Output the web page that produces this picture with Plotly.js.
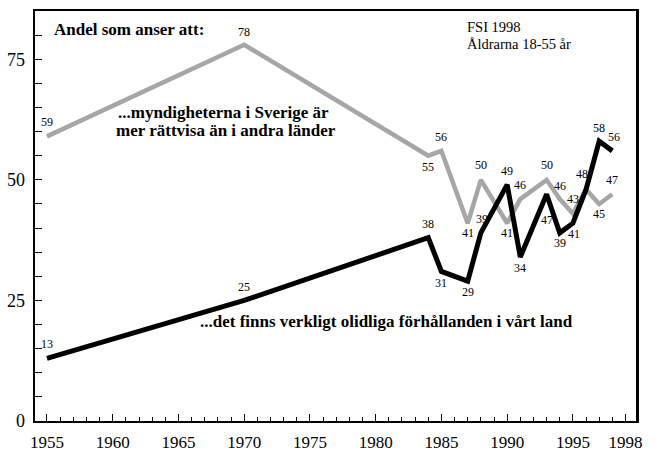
<!DOCTYPE html>
<html>
<head>
<meta charset="utf-8">
<script src="https://cdn.plot.ly/plotly-3.0.1.min.js"></script>
<style>html,body{margin:0;padding:0;background:#fff;}#chart{width:654px;height:451px;}</style>
</head>
<body>
<div id="chart"></div>
<script>
// Data
const years = [1955, 1970, 1984, 1985, 1987, 1988, 1990, 1991, 1993, 1994, 1995, 1996, 1997, 1998];
const grayVals = [59, 78, 55, 56, 41, 50, 41, 46, 50, 46, 43, 48, 45, 47];
const blackVals = [13, 25, 38, 31, 29, 39, 49, 34, 47, 39, 41, 48, 58, 56];
const grayLabelShown = [1,1,1,1,1,1,1,1,1,1,1,1,1,1];
const blackLabelShown = [1,1,1,1,1,1,1,1,1,1,1,0,1,1];
const xTickVals = [1955, 1960, 1965, 1970, 1975, 1980, 1985, 1990, 1995, 1999];
const xTickText = ['1955', '1960', '1965', '1970', '1975', '1980', '1985', '1990', '1995', '1998'];
const yTickVals = [0, 25, 50, 75];
const yTickText = ['0', '25', '50', '75'];

// label placement (pixels, positive = up)
const grayLabelDy = [14, 13, -11, 14, -10, 15, -10, 14, 15, 13, 15, 15, -10, 14];
const grayLabelDx = [0, 0, 0, 0, 0, 0, 0, 0, 0, 0, 0, -4, 0, 0];
const blackLabelDy = [14, 13, 14, -12, -11, 14, 14, -11, -26, -10, -11, 0, 13, 14];
const blackLabelDx = [0, 0, 0, 0, 0, 1, 0, 0, 0, 0, 1, 0, 0, 2];

const SERIF = 'Liberation Serif';
const GRAY = '#a6a6a6';

const traces = [
  {x: years, y: grayVals, type: 'scatter', mode: 'lines',
   line: {color: GRAY, width: 4.5}, hoverinfo: 'skip', showlegend: false},
  {x: years, y: blackVals, type: 'scatter', mode: 'lines',
   line: {color: '#000', width: 5}, hoverinfo: 'skip', showlegend: false}
];

const annotations = [];
function addLabels(vals, shown, dy, dx) {
  years.forEach((yr, i) => {
    if (!shown[i]) return;
    annotations.push({x: yr, y: vals[i], xref: 'x', yref: 'y', text: String(vals[i]),
      showarrow: false, yshift: dy[i], xshift: dx[i],
      font: {family: SERIF, size: 12, color: '#000'}});
  });
}
addLabels(grayVals, grayLabelShown, grayLabelDy, grayLabelDx);
addLabels(blackVals, blackLabelShown, blackLabelDy, blackLabelDx);

function txt(x, y, text, size, weight) {
  annotations.push({x: x, y: y, xref: 'paper', yref: 'paper', text: text,
    showarrow: false, xanchor: 'left', yanchor: 'middle',
    font: {family: SERIF, size: size, color: '#000', weight: weight}});
}
// plot area: x 35..636, y 11..421
const px = v => (v - 35) / 601;
const py = v => (421 - v) / 410;
txt(px(52), py(29), 'Andel som anser att:', 17, 'bold');
txt(px(465), py(27), 'FSI 1998', 14.5, 'normal');
txt(px(465), py(44), 'Åldrarna 18-55 år', 14.5, 'normal');
txt(px(116), py(112), '...myndigheterna i Sverige är', 17, 'bold');
txt(px(114), py(130), 'mer rättvisa än i andra länder', 17, 'bold');
txt(px(198), py(321), '...det finns verkligt olidliga förhållanden i vårt land', 17, 'bold');

const layout = {
  width: 654, height: 451,
  margin: {l: 35, r: 18, t: 11, b: 30, pad: 0},
  paper_bgcolor: '#fff', plot_bgcolor: '#fff',
  showlegend: false,
  font: {family: SERIF, color: '#000'},
  xaxis: {
    range: [1954.09, 1999.8], tickmode: 'array', tickvals: xTickVals, ticktext: xTickText,
    ticks: 'inside', ticklen: 7, tickwidth: 1, tickcolor: '#000',
    minor: {tickmode: 'linear', tick0: 1955, dtick: 1, ticks: 'inside', ticklen: 4, tickwidth: 1, tickcolor: '#000', showgrid: false},
    showline: true, linecolor: '#000', linewidth: 2, mirror: true,
    showgrid: false, zeroline: false, ticklabelstandoff: 5,
    tickfont: {family: SERIF, size: 17, color: '#000'}
  },
  yaxis: {
    range: [0, 85], tickmode: 'array', tickvals: yTickVals, ticktext: yTickText,
    ticks: 'inside', ticklen: 7, tickwidth: 1, tickcolor: '#000',
    minor: {tickmode: 'linear', tick0: 0, dtick: 5, ticks: 'inside', ticklen: 7, tickwidth: 1, tickcolor: '#000', showgrid: false},
    showline: true, linecolor: '#000', linewidth: 2.5, mirror: true,
    showgrid: false, zeroline: false, ticklabelstandoff: 4,
    tickfont: {family: SERIF, size: 18, color: '#000'}
  },
  annotations: annotations
};

Plotly.newPlot('chart', traces, layout, {staticPlot: true, displayModeBar: false});
</script>
</body>
</html>
